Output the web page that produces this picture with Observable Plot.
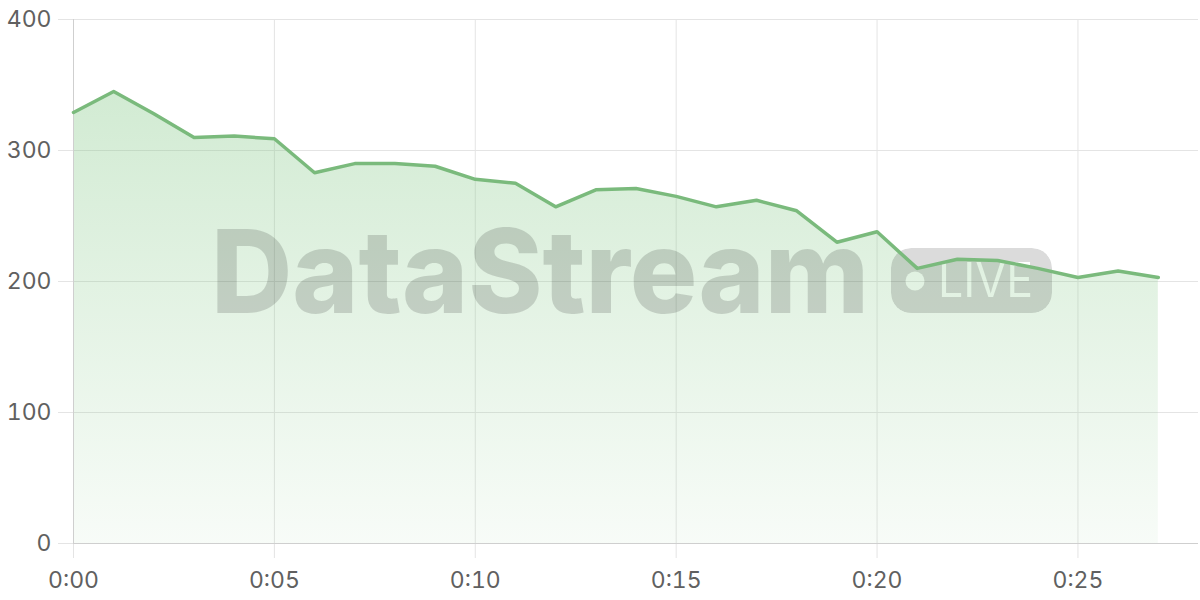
<!DOCTYPE html>
<html>
<head>
<meta charset="utf-8">
<script src="https://cdn.jsdelivr.net/npm/d3@7"></script>
<script src="https://cdn.jsdelivr.net/npm/@observablehq/plot@0.6"></script>
<style>
  html, body { margin: 0; padding: 0; background: #fff; }
  #chart { width: 1200px; height: 600px; }
</style>
</head>
<body>
<div id="chart"></div>
<script>
// Minutes elapsed and values
const minutes = [0,1,2,3,4,5,6,7,8,9,10,11,12,13,14,15,16,17,18,19,20,21,22,23,24,25,26,27];
const values  = [329,345,328,310,311,309,283,290,290,288,278,275,257,270,271,265,257,262,254,230,238,210,217,216,210,203,208,203];
const xTicks = [0,5,10,15,20,25];
const yTicks = [0,100,200,300,400];
const watermarkName = "DataStream";
const watermarkBadge = "LIVE";

const data = minutes.map((t, i) => ({t, v: values[i]}));
const fmt = d => `0:${String(d).padStart(2, "0")}`;

const W = 1200, H = 600;
const M = {top: 19, right: 2, bottom: 57, left: 73};
const green = "#7aba7c";
const gridColor = "#e4e4e4";
const axisColor = "#cfcfcf";
const labelColor = "#606060";

const svg = Plot.plot({
  width: W,
  height: H,
  marginTop: M.top,
  marginRight: M.right,
  marginBottom: M.bottom,
  marginLeft: M.left,
  style: {fontFamily: "Inter, 'DejaVu Sans', sans-serif", background: "#fff", overflow: "visible"},
  x: {domain: [0, 28]},
  y: {domain: [0, 400]},
  marks: [
    Plot.gridX({ticks: xTicks, stroke: gridColor, strokeOpacity: 1}),
    Plot.gridY({ticks: yTicks, stroke: gridColor, strokeOpacity: 1}),
    Plot.areaY(data, {x: "t", y: "v", fill: "url(#areaGrad)", curve: "linear"}),
    Plot.axisX({ticks: xTicks, tickFormat: fmt, tickSize: 15, tickPadding: 13,
      stroke: gridColor, strokeOpacity: 1, fill: labelColor, fontSize: 23, label: null}),
    Plot.axisY({ticks: yTicks, tickSize: 15, tickPadding: 7,
      stroke: gridColor, strokeOpacity: 1, fill: labelColor, fontSize: 23, label: null}),
    Plot.ruleX([0], {stroke: axisColor}),
    Plot.ruleY([0], {stroke: axisColor}),
    Plot.lineY(data, {x: "t", y: "v", stroke: green, strokeWidth: 3.5, curve: "linear"})
  ]
});

const s = d3.select(svg);
const defs = s.insert("defs", ":first-child");
const grad = defs.append("linearGradient")
  .attr("id", "areaGrad").attr("x1", 0).attr("y1", 0).attr("x2", 0).attr("y2", 1);
grad.append("stop").attr("offset", "0%").attr("stop-color", "#81c784").attr("stop-opacity", 0.36);
grad.append("stop").attr("offset", "100%").attr("stop-color", "#81c784").attr("stop-opacity", 0.06);

// badge knock-out mask
const mask = defs.append("mask").attr("id", "badgeMask").attr("maskUnits", "userSpaceOnUse")
  .attr("x", 0).attr("y", 0).attr("width", W).attr("height", H);
mask.append("rect").attr("x", 891).attr("y", 248).attr("width", 161).attr("height", 65)
  .attr("rx", 20).attr("fill", "#fff");
mask.append("circle").attr("cx", 915).attr("cy", 281).attr("r", 9.5).attr("fill", "#000");
mask.append("text").attr("x", 938).attr("y", 297).attr("text-anchor", "start")
  .attr("font-family", "Inter, 'DejaVu Sans', sans-serif").attr("font-size", 48)
  .attr("font-weight", 400).attr("textLength", 95).attr("lengthAdjust", "spacingAndGlyphs")
  .attr("fill", "#000").text(watermarkBadge);

// watermark group, placed under the line
const lineNode = svg.querySelector('g[aria-label="line"]');
const wm = document.createElementNS("http://www.w3.org/2000/svg", "g");
svg.insertBefore(wm, lineNode);
const wms = d3.select(wm).attr("aria-label", "watermark").attr("text-anchor", "start");
wms.append("text").attr("x", 211).attr("y", 313).attr("text-anchor", "start")
  .attr("font-family", "Inter, 'Liberation Sans', sans-serif").attr("font-size", 116)
  .attr("font-weight", 800).attr("textLength", 658).attr("lengthAdjust", "spacingAndGlyphs")
  .attr("fill", "#000").attr("fill-opacity", 0.15).text(watermarkName);
wms.append("rect").attr("x", 891).attr("y", 248).attr("width", 161).attr("height", 65)
  .attr("rx", 20).attr("fill", "#000").attr("fill-opacity", 0.14).attr("mask", "url(#badgeMask)");

document.getElementById("chart").appendChild(svg);
</script>
</body>
</html>
